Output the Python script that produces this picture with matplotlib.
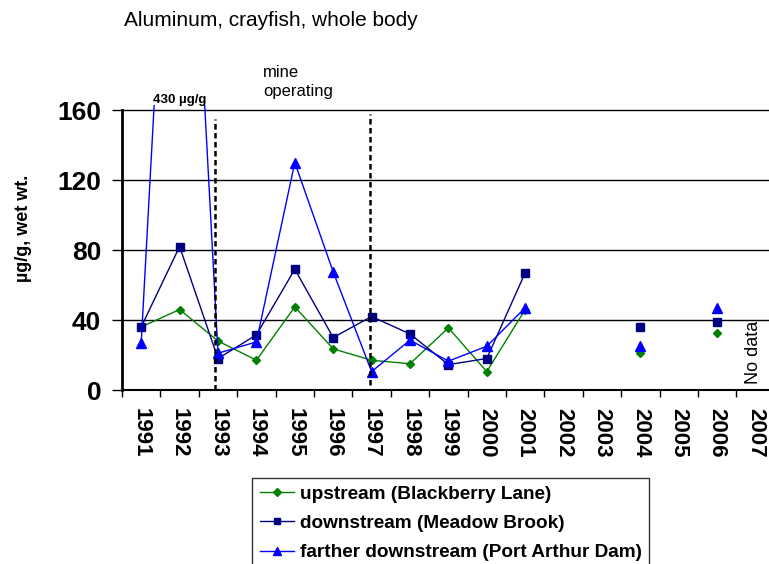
import numpy as np
import matplotlib
matplotlib.use("Agg")
import matplotlib.pyplot as plt

plt.rcParams['font.family'] = ['Liberation Sans', 'DejaVu Sans']

years = ["1991", "1992", "1993", "1994", "1995", "1996", "1997", "1998", "1999",
         "2000", "2001", "2002", "2003", "2004", "2005", "2006", "2007"]
nan = np.nan
upstream = [36, 46, 28, 17, 47.5, 23.5, 17, 15, 35.5, 10.5, 46, nan, nan, 21, nan, 32.5, nan]
downstream = [36, 82, 18, 31.5, 69, 30, 42, 32, 14.5, 18, 67, nan, nan, 36, nan, 39, nan]
farther = [27, 430, 21, 27.5, 130, 67.5, 10.5, 28.5, 16.5, 25, 47, nan, nan, 25, nan, 47, nan]

x = np.arange(len(years))

fig = plt.figure(figsize=(7.69, 5.64), dpi=100)
ax = fig.add_axes([122 / 769, 1 - 390 / 564, 17 * 38.4 / 769, 163 * 1.75 / 564])

ax.plot(x, upstream, color='#008000', marker='D', markersize=4.5, lw=1,
        label='upstream (Blackberry Lane)', zorder=3)
ax.plot(x, downstream, color='#000080', marker='s', markersize=5.5, lw=1,
        label='downstream (Meadow Brook)', zorder=3)
ax.plot(x, farther, color='#0000FF', marker='^', markersize=6.5, lw=1,
        label='farther downstream (Port Arthur Dam)', zorder=3)

ax.set_xlim(-0.5, len(years) - 0.5)
ax.set_ylim(0, 163)
ax.set_yticks([0, 40, 80, 120, 160])
ax.set_yticklabels(["0", "40", "80", "120", "160"], fontsize=19, fontweight='bold')
ax.yaxis.grid(True, color='black', lw=1)
ax.set_axisbelow(True)

ax.set_xticks(x)
ax.set_xticklabels(years, rotation=-90, fontsize=16, fontweight='bold')
ax.set_xticks(np.arange(len(years) + 1) - 0.5, minor=True)
ax.tick_params(axis='x', which='major', length=0, pad=13)
ax.tick_params(axis='x', which='minor', length=5, width=1)
ax.tick_params(axis='y', length=7, width=1, pad=8)

for s in ['top', 'right']:
    ax.spines[s].set_visible(False)
ax.spines['left'].set_bounds(0, 160)
ax.spines['left'].set_linewidth(2)
ax.spines['bottom'].set_linewidth(1.5)

fig.text(24 / 769, 1 - 228 / 564, "µg/g, wet wt.", fontsize=13, fontweight='bold',
         rotation=90, va='center', ha='center')

# mine operating period markers
ax.plot([1.93, 1.93], [0, 155], color='black', lw=1.8, dashes=(2.2, 1.4), zorder=4)
ax.plot([5.97, 5.97], [3, 158], color='black', lw=1.8, dashes=(2.2, 1.4), zorder=4)

fig.text(263 / 769, 1 - 82 / 564, "mine\noperating", fontsize=12, va='center', ha='left',
         linespacing=1.35)
fig.text(153 / 769, 1 - 100 / 564, "430 µg/g", fontsize=9.5, fontweight='bold',
         va='center', ha='left')
fig.text(124 / 769, 1 - 20 / 564, "Aluminum, crayfish, whole body", fontsize=15,
         va='center', ha='left')
fig.text(754 / 769, 1 - 352 / 564, "No data", fontsize=13, rotation=90,
         va='center', ha='center')

leg = ax.legend(loc='upper left', bbox_to_anchor=(252 / 769, 1 - 478 / 564),
                bbox_transform=fig.transFigure, frameon=True, fancybox=False,
                prop={'weight': 'bold', 'size': 13.7}, handlelength=1.8,
                handletextpad=0.3, borderpad=0.4, labelspacing=0.62,
                borderaxespad=0, markerscale=0.8)
leg.get_frame().set_edgecolor('black')
leg.get_frame().set_linewidth(1)

fig.savefig("out.png", dpi=100)
